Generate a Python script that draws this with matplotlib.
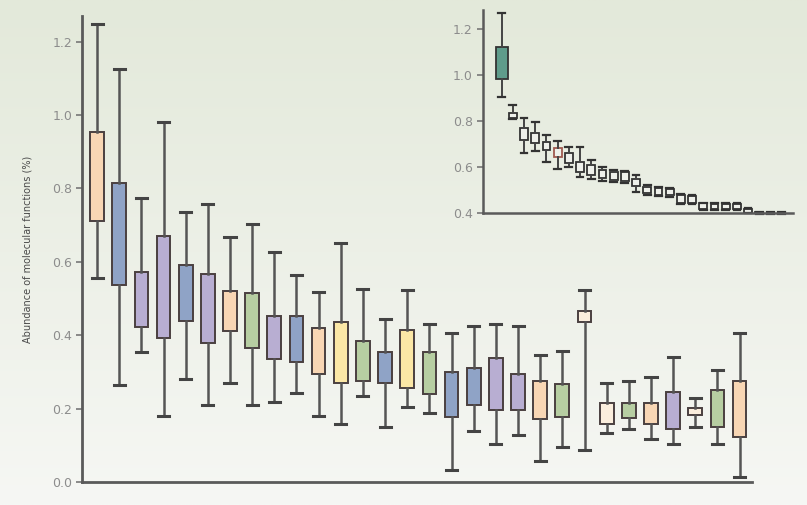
#!/usr/bin/env python3

import numpy as np
import matplotlib as mpl
mpl.use('Agg')
import matplotlib.pyplot as plt

mpl.rcParams['font.family'] = 'DejaVu Sans'

# main panel: whisker low, box bottom, box top, whisker high (%)
main_lo = [0.556, 0.265, 0.354, 0.180, 0.281, 0.210, 0.271, 0.210, 0.218, 0.242,
           0.180, 0.158, 0.235, 0.151, 0.205, 0.188, 0.033, 0.140, 0.103, 0.128,
           0.057, 0.096, 0.087, 0.134, 0.145, 0.117, 0.103, 0.151, 0.104, 0.014]
main_q1 = [0.710, 0.537, 0.423, 0.392, 0.440, 0.378, 0.412, 0.365, 0.335, 0.328,
           0.294, 0.271, 0.274, 0.271, 0.256, 0.239, 0.178, 0.210, 0.196, 0.196,
           0.172, 0.178, 0.435, 0.158, 0.174, 0.158, 0.144, 0.183, 0.151, 0.122]
main_q3 = [0.953, 0.815, 0.573, 0.669, 0.592, 0.566, 0.521, 0.515, 0.453, 0.453,
           0.420, 0.435, 0.383, 0.353, 0.413, 0.353, 0.301, 0.310, 0.337, 0.294,
           0.274, 0.266, 0.466, 0.216, 0.215, 0.216, 0.244, 0.201, 0.251, 0.274]
main_hi = [1.249, 1.124, 0.774, 0.982, 0.737, 0.757, 0.667, 0.703, 0.628, 0.564,
           0.519, 0.651, 0.526, 0.444, 0.522, 0.430, 0.407, 0.424, 0.430, 0.424,
           0.346, 0.357, 0.522, 0.269, 0.275, 0.287, 0.342, 0.228, 0.304, 0.407]
main_groups = ['peach', 'blue', 'purple', 'purple', 'blue', 'purple', 'peach', 'green',
               'purple', 'blue', 'peach', 'yellow', 'green', 'blue', 'yellow', 'green',
               'blue', 'blue', 'purple', 'purple', 'peach', 'green', 'cream', 'cream',
               'green', 'peach', 'purple', 'cream', 'green', 'peach']

# inset panel
inset_lo = [0.904, 0.810, 0.661, 0.670, 0.624, 0.591, 0.600, 0.556, 0.550, 0.540,
            0.535, 0.530, 0.494, 0.480, 0.475, 0.470, 0.440, 0.440, 0.415, 0.415,
            0.415, 0.415, 0.400, 0.398, 0.398, 0.398]
inset_q1 = [0.984, 0.813, 0.719, 0.704, 0.675, 0.646, 0.617, 0.581, 0.566, 0.552,
            0.545, 0.540, 0.520, 0.487, 0.480, 0.480, 0.443, 0.445, 0.420, 0.420,
            0.420, 0.420, 0.403, 0.400, 0.400, 0.400]
inset_q3 = [1.124, 0.837, 0.770, 0.748, 0.711, 0.683, 0.661, 0.624, 0.610, 0.588,
            0.580, 0.580, 0.550, 0.515, 0.510, 0.505, 0.480, 0.475, 0.443, 0.440,
            0.440, 0.440, 0.420, 0.405, 0.404, 0.403]
inset_hi = [1.273, 0.870, 0.813, 0.798, 0.740, 0.716, 0.690, 0.690, 0.630, 0.600,
            0.590, 0.585, 0.566, 0.525, 0.515, 0.510, 0.485, 0.480, 0.447, 0.445,
            0.445, 0.443, 0.425, 0.407, 0.405, 0.404]

main_ticks = [0.0, 0.2, 0.4, 0.6, 0.8, 1.0, 1.2]
inset_ticks = [0.4, 0.6, 0.8, 1.0, 1.2]
ylabel = 'Abundance of molecular functions (%)'

palette = {'peach': '#f8d6b4', 'blue': '#8fa3c6', 'purple': '#b8aed2',
           'green': '#b7cea2', 'yellow': '#fbe7a6', 'cream': '#fbeedd'}


def make_stats(lo, q1, q3, hi):
    return [dict(whislo=a, q1=b, med=(b + c) / 2, q3=c, whishi=d, fliers=[])
            for a, b, c, d in zip(lo, q1, q3, hi)]


def style_axes(ax, ticks, lw=2.0):
    for side in ['top', 'right']:
        ax.spines[side].set_visible(False)
    for side in ['left', 'bottom']:
        ax.spines[side].set_linewidth(lw)
        ax.spines[side].set_color('#5a5a5a')
    ax.set_facecolor('none')
    ax.set_xticks([])
    ax.set_yticks(ticks)
    ax.set_yticklabels(['{:.1f}'.format(t) for t in ticks])
    ax.tick_params(axis='y', length=4, width=1.2, color='#777777',
                   labelcolor='#8c8c8c', labelsize=9, pad=3)


fig = plt.figure(figsize=(8.07, 5.05), dpi=100)

# soft green background gradient
bg = fig.add_axes([0, 0, 1, 1], zorder=-10)
top = np.array([227, 233, 218]) / 255.0
bot = np.array([246, 247, 244]) / 255.0
t = np.linspace(0, 1, 256)[:, None, None]
grad = top * (1 - t) + bot * t
grad = np.repeat(grad, 4, axis=1)
bg.imshow(grad, aspect='auto', extent=[0, 1, 0, 1])
bg.axis('off')

# main panel
ax = fig.add_axes([0.1016, 0.0455, 0.830, 0.923])
n = len(main_lo)
pos = np.arange(1, n + 1)
res = ax.bxp(make_stats(main_lo, main_q1, main_q3, main_hi), positions=pos,
             widths=0.62, capwidths=0.5, patch_artist=True, showfliers=False,
             boxprops=dict(edgecolor='#4a4040', linewidth=1.4),
             whiskerprops=dict(color='#555555', linewidth=1.8),
             capprops=dict(color='#444444', linewidth=2.2),
             medianprops=dict(visible=False))
for patch, g in zip(res['boxes'], main_groups):
    patch.set_facecolor(palette[g])
ax.set_xlim(0.32, n + 0.55)
ax.set_ylim(0, 1.27)
style_axes(ax, main_ticks)
ax.set_ylabel(ylabel, fontsize=7, color='#4a4a4a', labelpad=14)

# inset panel
axi = fig.add_axes([0.598, 0.5776, 0.3845, 0.4026])
m = len(inset_lo)
ipos = np.arange(1, m + 1)
ires = axi.bxp(make_stats(inset_lo, inset_q1, inset_q3, inset_hi), positions=ipos,
               widths=[1.05] + [0.7] * (m - 1), capwidths=0.6, patch_artist=True,
               showfliers=False,
               boxprops=dict(edgecolor='#333333', linewidth=1.3),
               whiskerprops=dict(color='#444444', linewidth=1.4),
               capprops=dict(color='#333333', linewidth=1.6),
               medianprops=dict(visible=False))
for i, patch in enumerate(ires['boxes']):
    patch.set_facecolor('#5f9c8b' if i == 0 else '#eef0ea')
    if i == 5:
        patch.set_edgecolor('#a05a50')
axi.set_xlim(-0.7, m + 1.0)
axi.set_ylim(0.4, 1.284)
style_axes(axi, inset_ticks, lw=1.8)
for art in ires['boxes'] + ires['whiskers'] + ires['caps']:
    art.set_clip_on(False)

fig.savefig('out.png', dpi=100)
